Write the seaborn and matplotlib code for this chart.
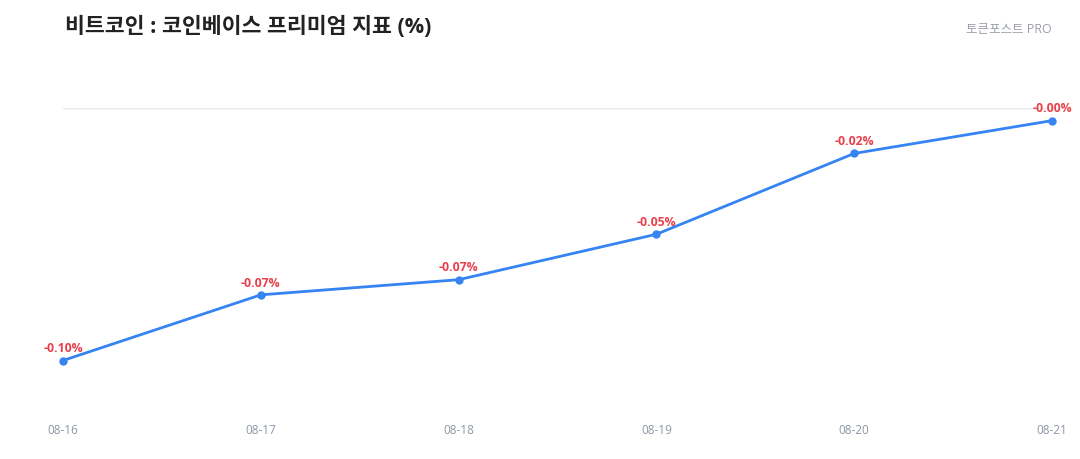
import matplotlib
matplotlib.use("Agg")
import matplotlib.pyplot as plt
import seaborn as sns
import pandas as pd

dates = ["08-16", "08-17", "08-18", "08-19", "08-20", "08-21"]
premium = [-0.100, -0.074, -0.068, -0.050, -0.018, -0.005]
labels = ["-0.10%", "-0.07%", "-0.07%", "-0.05%", "-0.02%", "-0.00%"]

sns.set_style("white")
plt.rcParams['font.family'] = ['Open Sans', 'Noto Sans CJK KR', 'DejaVu Sans']

df = pd.DataFrame({"x": range(len(dates)), "v": premium})

fig = plt.figure(figsize=(10.8, 4.6), dpi=100)
ax = fig.add_axes([63/1080, 1-412/460, (1052-63)/1080, (412-109)/460])

ax.axhline(0, color="#e6e8eb", lw=1, zorder=0)
sns.lineplot(data=df, x="x", y="v", ax=ax, color="#3584f2", lw=2,
             marker="o", markersize=6, markeredgewidth=0, clip_on=False)

for i, (v, t) in enumerate(zip(premium, labels)):
    ax.annotate(t, (i, v), xytext=(0, 4.5), textcoords="offset points",
                ha="center", va="bottom", color="#e8414b", fontsize=8.8,
                fontweight="bold", annotation_clip=False)

ax.set_xlim(0, len(dates) - 1)
ax.set_ylim(-0.12, 0)
ax.set_xticks(range(len(dates)))
ax.set_xticklabels(dates, color="#8e97a6", fontsize=8.5)
ax.set_yticks([])
ax.tick_params(axis="x", length=0, pad=9)
ax.set_xlabel("")
ax.set_ylabel("")
for s in ax.spines.values():
    s.set_visible(False)

fig.text(65/1080, 1-27/460, "비트코인 : 코인베이스 프리미엄 지표 (%)", fontsize=15.6,
         fontweight="bold", color="#222222", va="center", ha="left")
fig.text(1052/1080, 1-30/460, "토큰포스트 PRO", fontsize=9, color="#9a9fa8",
         va="center", ha="right")

fig.savefig("out.png", dpi=100, facecolor="white")
